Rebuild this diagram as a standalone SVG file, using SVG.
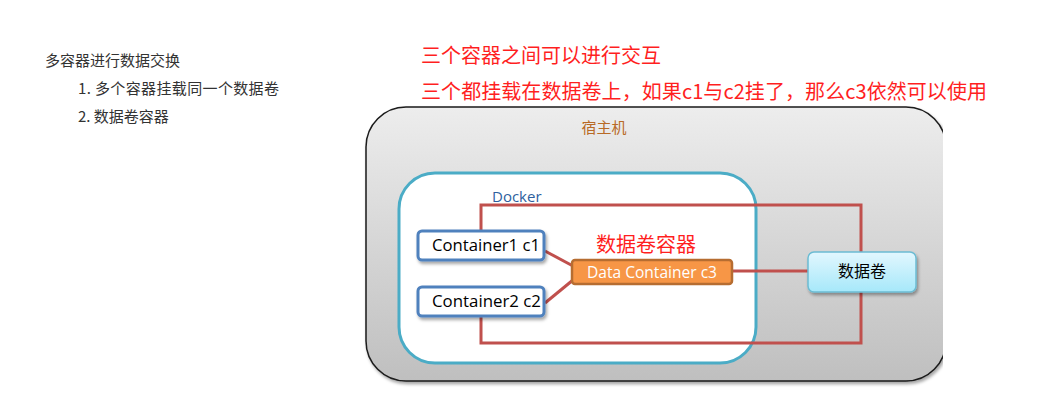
<svg xmlns="http://www.w3.org/2000/svg" width="1047" height="409" viewBox="0 0 1047 409">
<defs>
<style>
.cjk{font-family:"Noto Sans CJK SC","Noto Sans",sans-serif}
.lat{font-family:"Open Sans","Noto Sans","Noto Sans CJK SC",sans-serif}
.note{font-size:15px;fill:#333}
.red{font-size:20px;fill:#FF1F1F}
.conn{fill:none;stroke:#C0504D;stroke-width:3}
.cont{fill:#fff;stroke:#4F81BD;stroke-width:3}
.lbl{font-size:16px;fill:#000}
</style>
<linearGradient id="hostG" x1="0" y1="0" x2="0" y2="1">
<stop offset="0" stop-color="#ededed"/>
<stop offset="1" stop-color="#bfbfbf"/>
</linearGradient>
<linearGradient id="volG" x1="0" y1="0" x2="0" y2="1">
<stop offset="0" stop-color="#e2f7fe"/>
<stop offset="1" stop-color="#a6e8fa"/>
</linearGradient>
<filter id="sh" x="-20%" y="-20%" width="140%" height="150%">
<feDropShadow dx="1.5" dy="2.5" stdDeviation="1.5" flood-color="#000" flood-opacity="0.35"/>
</filter>
<clipPath id="clipR"><rect x="0" y="0" width="943" height="409"/></clipPath>
</defs>

<g id="notes">
<text class="cjk note" x="45" y="66">多容器进行数据交换</text>
<text class="cjk note" x="78" y="94" textLength="201" lengthAdjust="spacing">1. 多个容器挂载同一个数据卷</text>
<text class="cjk note" x="78" y="122">2. 数据卷容器</text>
<text class="cjk red" x="421" y="63">三个容器之间可以进行交互</text>
<text class="cjk red" x="421" y="99" textLength="566" lengthAdjust="spacing">三个都挂载在数据卷上，如果c1与c2挂了，那么c3依然可以使用</text>
</g>

<g id="host" clip-path="url(#clipR)">
<rect x="366" y="107" width="580" height="274" rx="40" ry="40" fill="url(#hostG)" stroke="#1a1a1a" stroke-width="1.5" filter="url(#sh)"/>
<text class="cjk" x="604" y="133" font-size="15" fill="#B86A26" text-anchor="middle">宿主机</text>
</g>

<g id="docker">
<rect x="399" y="173" width="357" height="190" rx="36" ry="36" fill="#fff" stroke="#4BACC6" stroke-width="3"/>
<text class="lat" x="492" y="202" font-size="15" fill="#2F5F9E">Docker</text>
</g>

<g id="connectors">
<polyline class="conn" points="481,231 481,205 861,205 861,252"/>
<polyline class="conn" points="481,316 481,343 861,343 861,292"/>
<line class="conn" x1="545" y1="251" x2="573" y2="266"/>
<line class="conn" x1="545" y1="303" x2="573" y2="280"/>
<line class="conn" x1="733" y1="271" x2="808" y2="271" stroke-width="4.5"/>
</g>

<g id="c1">
<rect class="cont" x="418" y="231" width="126" height="29" rx="4" filter="url(#sh)"/>
<text class="lat lbl" x="432" y="251" textLength="108" lengthAdjust="spacingAndGlyphs">Container1 c1</text>
</g>

<g id="c2">
<rect class="cont" x="418" y="287" width="126" height="29" rx="4" filter="url(#sh)"/>
<text class="lat lbl" x="432" y="307" textLength="109" lengthAdjust="spacingAndGlyphs">Container2 c2</text>
</g>

<g id="c3">
<text class="cjk" x="646" y="252" font-size="20" fill="#FF1F1F" text-anchor="middle">数据卷容器</text>
<rect x="572" y="260" width="160" height="24" rx="3" fill="#F79646" stroke="#B66D31" stroke-width="2.5"/>
<text class="lat" x="587" y="278" font-size="16" fill="#fff" textLength="130" lengthAdjust="spacingAndGlyphs">Data Container c3</text>
</g>

<g id="volume">
<rect x="808" y="252" width="108" height="40" rx="6" fill="url(#volG)" stroke="#6CBCD3" stroke-width="1.5" filter="url(#sh)"/>
<text class="cjk" x="862" y="277" font-size="16" fill="#000" text-anchor="middle">数据卷</text>
</g>
</svg>
